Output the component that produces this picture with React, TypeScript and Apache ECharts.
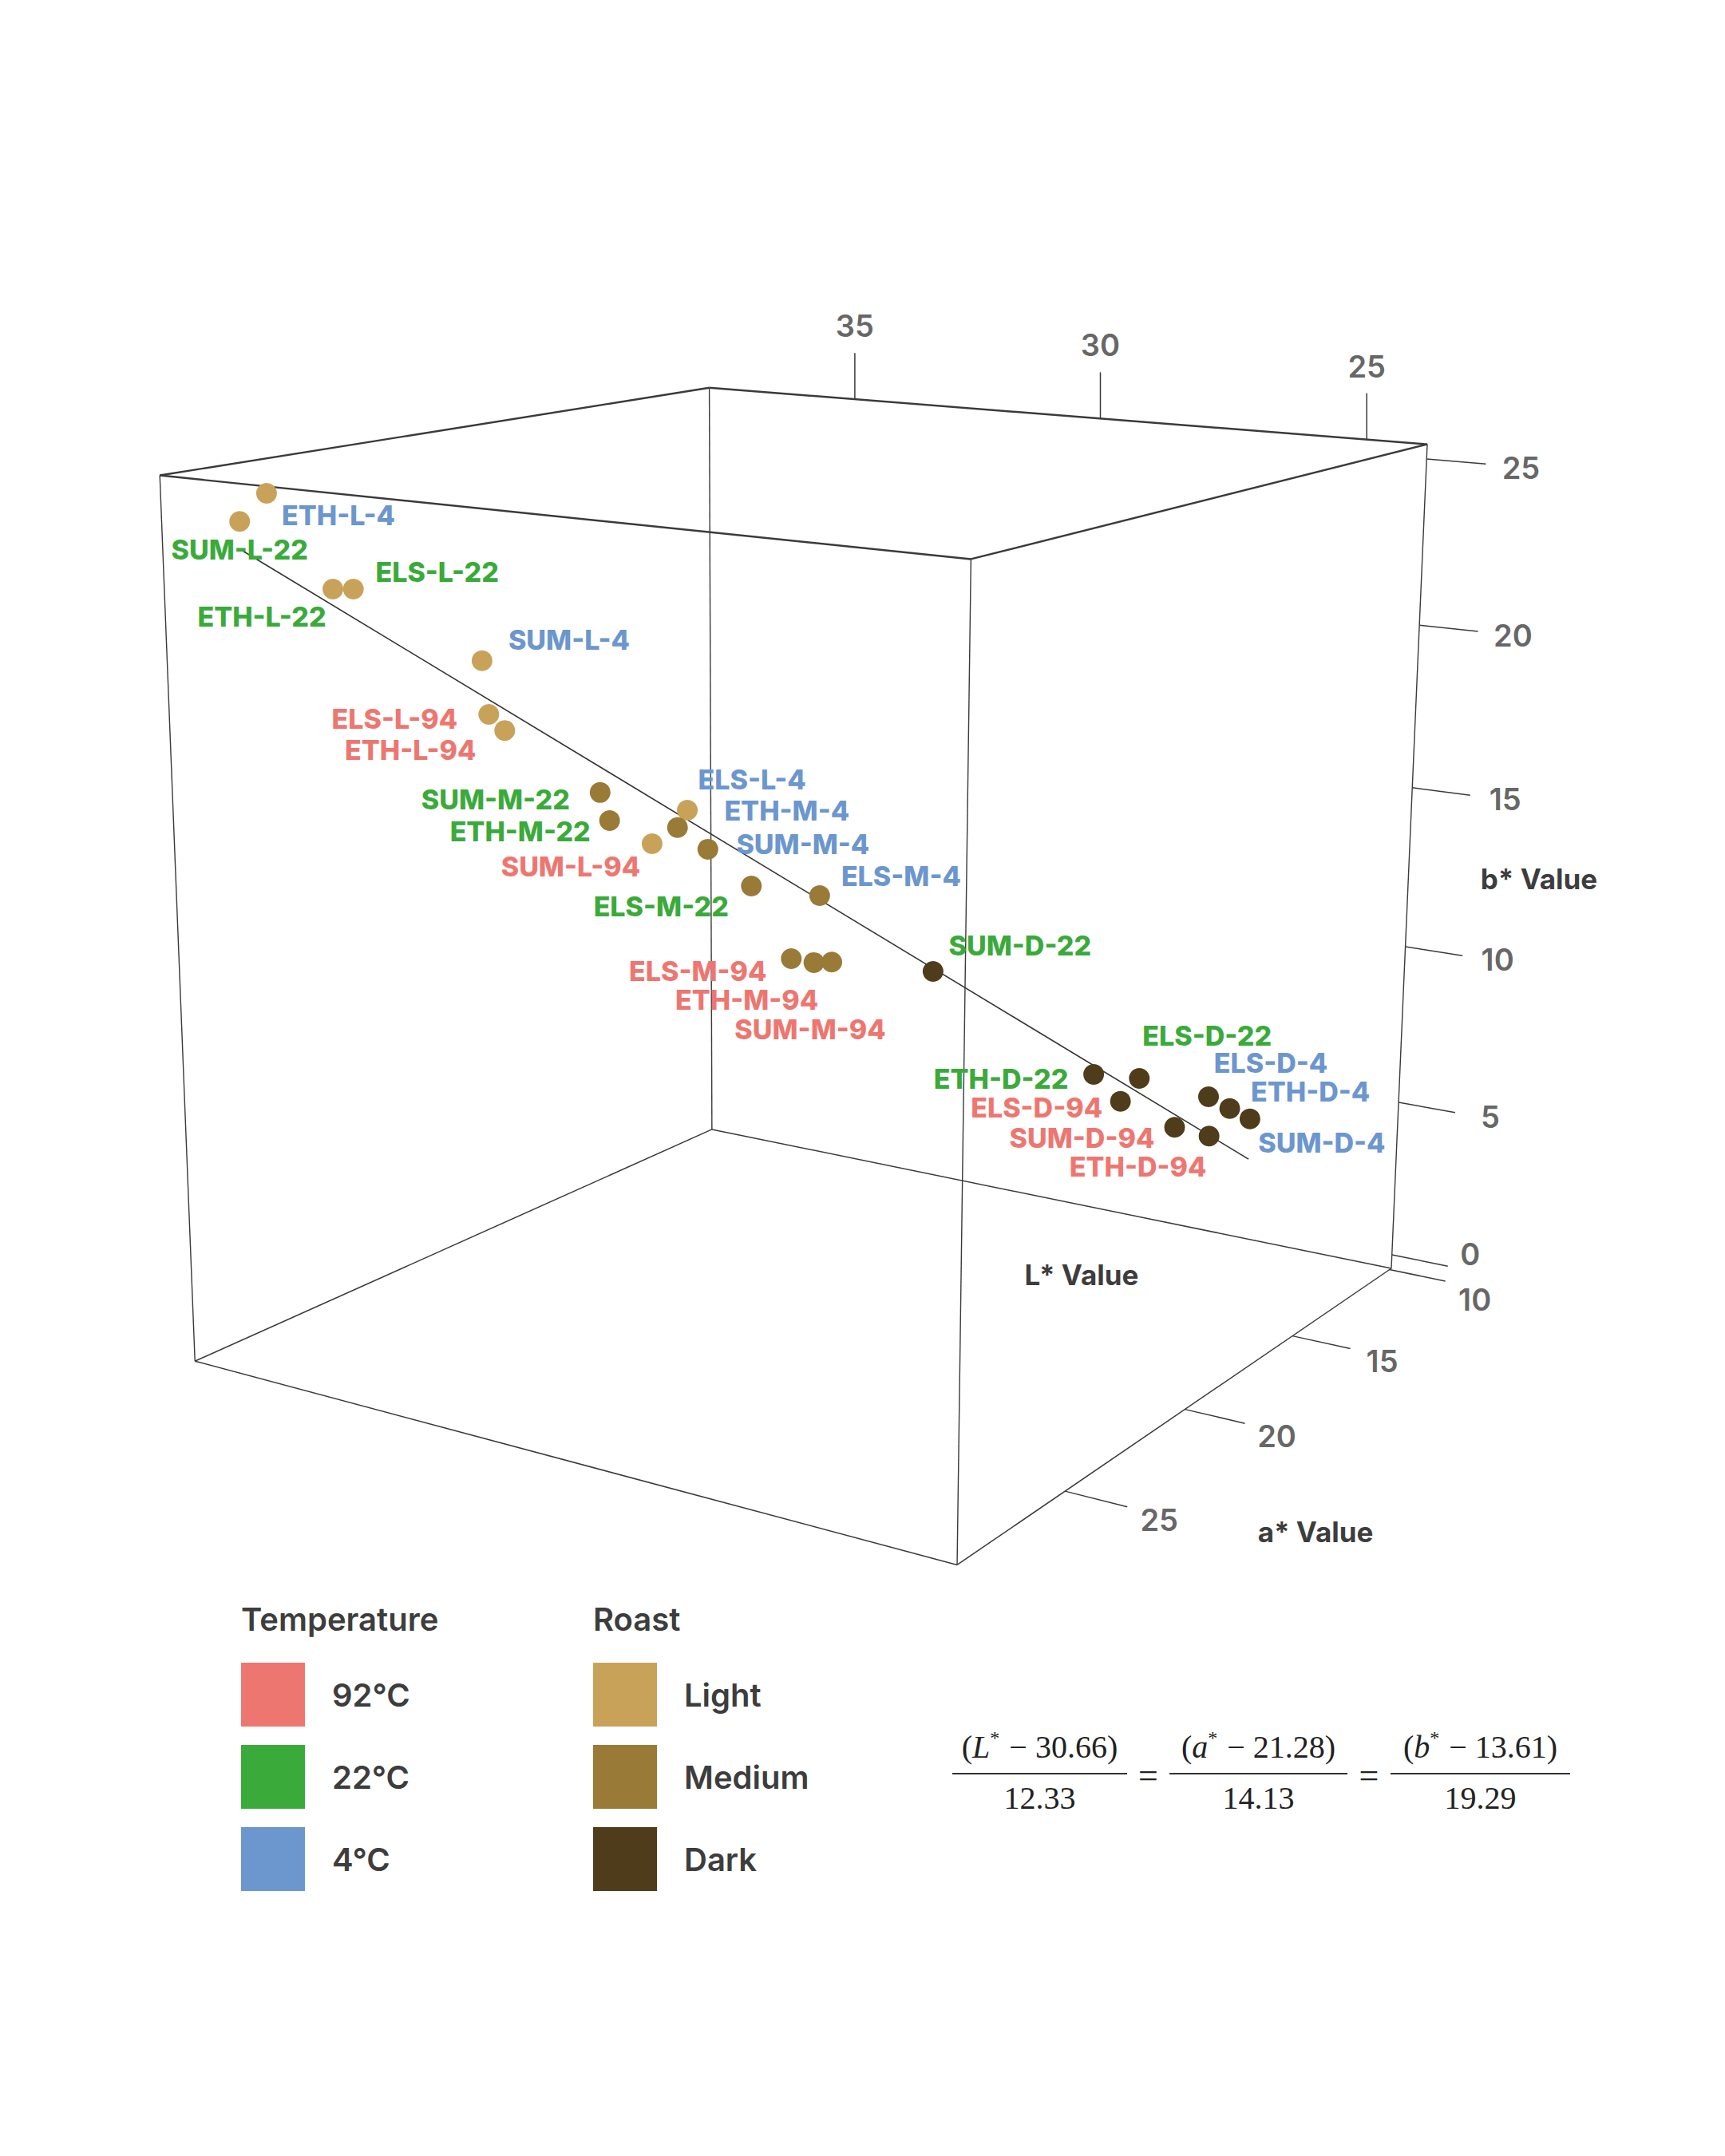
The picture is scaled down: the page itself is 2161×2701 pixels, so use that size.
import React, { useEffect, useRef } from 'react';
import * as echarts from 'echarts';

// ---------------- data ----------------
const SAMPLES = [
  'ETH-L-4', 'SUM-L-22', 'ETH-L-22', 'ELS-L-22', 'SUM-L-4', 'ELS-L-94', 'ETH-L-94',
  'SUM-M-22', 'ETH-M-22', 'ELS-L-4', 'ETH-M-4', 'SUM-L-94', 'SUM-M-4', 'ELS-M-22',
  'ELS-M-4', 'ELS-M-94', 'ETH-M-94', 'SUM-M-94', 'SUM-D-22', 'ETH-D-22', 'ELS-D-22',
  'ELS-D-94', 'ELS-D-4', 'ETH-D-4', 'SUM-D-4', 'SUM-D-94', 'ETH-D-94',
];
const L_VALUES = [
  36.66, 36.97, 35.94, 35.71, 34.26, 34.19, 34.01, 32.91, 32.8, 31.88, 32.0, 32.3, 31.64, 31.12,
  30.3, 30.64, 30.37, 30.15, 28.92, 26.91, 26.34, 26.57, 25.46, 25.19, 24.93, 25.88, 25.44,
];
const A_VALUES = [
  28.15, 28.51, 27.34, 27.07, 25.4, 25.33, 25.12, 23.85, 23.73, 22.68, 22.81, 23.16, 22.4, 21.81,
  20.87, 21.26, 20.94, 20.7, 19.28, 16.99, 16.33, 16.59, 15.33, 15.01, 14.71, 15.8, 15.3,
];
const B_VALUES = [
  25.02, 24.26, 22.34, 22.33, 20.24, 18.71, 18.24, 16.38, 15.56, 15.8, 15.3, 14.85, 14.64, 13.52,
  13.17, 11.32, 11.18, 11.18, 10.79, 7.48, 7.3, 6.61, 6.65, 6.25, 5.9, 5.74, 5.42,
];

const L_TICKS = [25, 30, 35];
const A_TICKS = [10, 15, 20, 25];
const B_TICKS = [0, 5, 10, 15, 20, 25];

// regression line: (L*-c0)/d0 = (a*-c1)/d1 = (b*-c2)/d2
const EQ_CENTER = [30.66, 21.28, 13.61];
const EQ_DIR = [12.33, 14.13, 19.29];

const TEMPERATURES = ['94', '22', '4'];
const TEMP_LABELS = ['92°C', '22°C', '4°C'];
const ROASTS = ['L', 'M', 'D'];
const ROAST_LABELS = ['Light', 'Medium', 'Dark'];

// ---------------- styles / layout ----------------
const W = 2161;
const H = 2701;
const TEMP_COLORS = ['#EE7670', '#3AAA3A', '#6C96CE'];
const ROAST_COLORS = ['#C9A25A', '#997A36', '#4E3C1B'];
const INK = '#3d3d3d';
const FONT = 'Inter, "Noto Sans", sans-serif';

const L_RANGE = [23.92, 38.16];
const A_RANGE = [9.9, 29.06];
const B_RANGE = [-0.45, 25.44];

// perspective camera: image of the origin corner, vanishing points of the three axes, weights
const CAMERA = {
  origin: [1743, 1589],
  vanish: [
    [-6490, -95],
    [4111, -28],
    [956, 19640],
  ],
  weight: [0.1153, -0.1868, -0.0541],
};

// centre offsets of each sample label relative to its point
const LABEL_OFFSETS: Record<string, number[]> = {
  'ETH-L-4': [90, 28], 'SUM-L-22': [0, 35], 'ETH-L-22': [-89, 34], 'ELS-L-22': [105, -21],
  'SUM-L-4': [109, -26], 'ELS-L-94': [-118, 5], 'ETH-L-94': [-118, 24], 'SUM-M-22': [-131, 9],
  'ETH-M-22': [-112, 14], 'ELS-L-4': [81, -38], 'ETH-M-4': [137, -21], 'SUM-L-94': [-102, 29],
  'SUM-M-4': [119, -6], 'ELS-M-22': [-113, 26], 'ELS-M-4': [102, -25], 'ELS-M-94': [-117, 15],
  'ETH-M-94': [-84, 47], 'SUM-M-94': [-27, 84], 'SUM-D-22': [109, -33], 'ETH-D-22': [-116, 6],
  'ELS-D-22': [85, -53], 'ELS-D-94': [-105, 8], 'ELS-D-4': [78, -42], 'ETH-D-4': [101, -21],
  'SUM-D-4': [90, 30], 'SUM-D-94': [-116, 13], 'ETH-D-94': [-89, 38],
};

function norm(v: number, r: number[]) {
  return (v - r[0]) / (r[1] - r[0]);
}

function project(L: number, a: number, b: number): number[] {
  const n = [norm(L, L_RANGE), norm(a, A_RANGE), norm(b, B_RANGE)];
  let x = CAMERA.origin[0];
  let y = CAMERA.origin[1];
  let d = 1;
  for (let i = 0; i < 3; i++) {
    const k = CAMERA.weight[i] * n[i];
    x += k * CAMERA.vanish[i][0];
    y += k * CAMERA.vanish[i][1];
    d += k;
  }
  return [x / d, y / d];
}

function buildOption() {
  // box edges
  const edges: number[][] = [];
  const Ls = L_RANGE, As = A_RANGE, Bs = B_RANGE;
  for (const a of As) for (const b of Bs) {
    const p = project(Ls[0], a, b), q = project(Ls[1], a, b);
    edges.push([p[0], p[1], q[0], q[1], b === Bs[1] ? 2.4 : 1.5]);
  }
  for (const L of Ls) for (const b of Bs) {
    const p = project(L, As[0], b), q = project(L, As[1], b);
    edges.push([p[0], p[1], q[0], q[1], b === Bs[1] ? 2.4 : 1.5]);
  }
  for (const L of Ls) for (const a of As) {
    const p = project(L, a, Bs[0]), q = project(L, a, Bs[1]);
    edges.push([p[0], p[1], q[0], q[1], 1.4]);
  }

  // ticks and tick labels
  const tickLabels: any[] = [];
  const tickOut = Ls[0] - 0.073 * (Ls[1] - Ls[0]);
  L_TICKS.forEach((v) => {
    const p = project(v, As[0], Bs[1]);
    edges.push([p[0], p[1], p[0], p[1] - 58, 1.5]);
    tickLabels.push({ value: [p[0], p[1] - 92], label: { formatter: String(v) } });
  });
  A_TICKS.forEach((v, i) => {
    const p = project(Ls[0], v, Bs[0]);
    const q = project(tickOut, v, Bs[0]);
    edges.push([p[0], p[1], q[0], q[1], 1.5]);
    const off = i === 0 ? [37, 23] : [40, 16];
    tickLabels.push({ value: [q[0] + off[0], q[1] + off[1]], label: { formatter: String(v) } });
  });
  B_TICKS.forEach((v, i) => {
    const p = project(Ls[0], As[0], v);
    const q = project(tickOut, As[0], v);
    edges.push([p[0], p[1], q[0], q[1], 1.5]);
    const off = i === 0 ? [28, -15] : [44, 5];
    tickLabels.push({ value: [q[0] + off[0], q[1] + off[1]], label: { formatter: String(v) } });
  });

  // regression line across the L* range of the data
  const tMin = (Math.min(...L_VALUES) - EQ_CENTER[0]) / EQ_DIR[0];
  const tMax = (Math.max(...L_VALUES) - EQ_CENTER[0]) / EQ_DIR[0];
  const linePts = [tMin, tMax].map((t) =>
    project(EQ_CENTER[0] + t * EQ_DIR[0], EQ_CENTER[1] + t * EQ_DIR[1], EQ_CENTER[2] + t * EQ_DIR[2])
  );

  // points
  const points = SAMPLES.map((name, i) => {
    const parts = name.split('-');
    const roastIdx = ROASTS.indexOf(parts[1]);
    const tempIdx = TEMPERATURES.indexOf(parts[2]);
    const p = project(L_VALUES[i], A_VALUES[i], B_VALUES[i]);
    return {
      name,
      value: [p[0], p[1]],
      itemStyle: { color: ROAST_COLORS[roastIdx], opacity: 1 },
      label: {
        show: true,
        formatter: name,
        position: 'inside',
        offset: LABEL_OFFSETS[name] || [0, 0],
        color: TEMP_COLORS[tempIdx],
        opacity: 1,
        fontFamily: FONT,
        fontWeight: 800,
        fontSize: 34,
        lineHeight: 26,
        align: 'center',
        verticalAlign: 'middle',
      },
    };
  });

  const legendGraphics: any[] = [];
  const rowsY = [2083, 2186, 2289];
  const legendCols = [
    { title: 'Temperature', x: 302, labels: TEMP_LABELS, colors: TEMP_COLORS },
    { title: 'Roast', x: 743, labels: ROAST_LABELS, colors: ROAST_COLORS },
  ];
  legendCols.forEach((col) => {
    legendGraphics.push({
      type: 'text', left: col.x, top: 2008,
      style: { text: col.title, fill: INK, font: `600 40px ${FONT}` },
    });
    col.labels.forEach((lab, i) => {
      legendGraphics.push({
        type: 'rect', shape: { x: col.x, y: rowsY[i], width: 80, height: 80 },
        style: { fill: col.colors[i] },
      });
      legendGraphics.push({
        type: 'text', x: col.x + 114, y: rowsY[i] + 40,
        style: { text: lab, fill: INK, font: `600 40px ${FONT}`, verticalAlign: 'middle', align: 'left' },
      });
    });
  });

  // equation
  const SERIF = '"Liberation Serif", "DejaVu Serif", serif';
  const rich = {
    n: { fontFamily: SERIF, fontSize: 40, fill: '#222', lineHeight: 46 },
    i: { fontFamily: SERIF, fontSize: 40, fontStyle: 'italic', fill: '#222', lineHeight: 46 },
    s: { fontFamily: SERIF, fontSize: 24, fill: '#222', lineHeight: 46, verticalAlign: 'top', padding: [0, 2, 18, 0] },
  };
  const fracs = [
    { v: 'L', c: '30.66', d: '12.33', x0: 1193, x1: 1412 },
    { v: 'a', c: '21.28', d: '14.13', x0: 1465, x1: 1688 },
    { v: 'b', c: '13.61', d: '19.29', x0: 1742, x1: 1967 },
  ];
  const eqGraphics: any[] = [];
  fracs.forEach((f, k) => {
    const cx = (f.x0 + f.x1) / 2;
    eqGraphics.push({
      type: 'line', shape: { x1: f.x0, y1: 2222, x2: f.x1, y2: 2222 },
      style: { stroke: '#333', lineWidth: 2.2 },
    });
    eqGraphics.push({
      type: 'text', x: cx, y: 2188,
      style: {
        text: `{n|(}{i|${f.v}}{s|*}{n| − ${f.c})}`, rich, align: 'center', verticalAlign: 'middle',
      },
    });
    eqGraphics.push({
      type: 'text', x: cx, y: 2252,
      style: { text: f.d, fill: '#222', font: `40px ${SERIF}`, align: 'center', verticalAlign: 'middle' },
    });
    if (k < 2) {
      eqGraphics.push({
        type: 'text', x: (f.x1 + fracs[k + 1].x0) / 2, y: 2224,
        style: { text: '=', fill: '#222', font: `44px ${SERIF}`, align: 'center', verticalAlign: 'middle' },
      });
    }
  });

  const axisTitles = [
    { text: 'L* Value', x: 1355, y: 1597 },
    { text: 'a* Value', x: 1648, y: 1919 },
    { text: 'b* Value', x: 1928, y: 1101 },
  ].map((t) => ({
    type: 'text', x: t.x, y: t.y,
    style: { text: t.text, fill: INK, font: `bold 35px ${FONT}`, align: 'center', verticalAlign: 'middle' },
  }));

  return {
    animation: false,
    backgroundColor: '#ffffff',
    grid: { left: 0, right: 0, top: 0, bottom: 0, containLabel: false },
    xAxis: { type: 'value', min: 0, max: W, show: false },
    yAxis: { type: 'value', min: 0, max: H, inverse: true, show: false },
    series: [
      {
        type: 'custom',
        name: 'frame',
        clip: false,
        z: 1,
        silent: true,
        data: edges,
        renderItem: (params: any, api: any) => {
          const p1 = api.coord([api.value(0), api.value(1)]);
          const p2 = api.coord([api.value(2), api.value(3)]);
          return {
            type: 'line',
            shape: { x1: p1[0], y1: p1[1], x2: p2[0], y2: p2[1] },
            style: { stroke: '#3a3a3a', lineWidth: api.value(4) },
          };
        },
      },
      {
        type: 'line',
        name: 'fit',
        z: 2,
        silent: true,
        symbol: 'none',
        data: linePts,
        lineStyle: { color: '#333333', width: 1.6 },
      },
      {
        type: 'scatter',
        name: 'ticks',
        z: 2,
        silent: true,
        symbolSize: 0,
        data: tickLabels,
        label: {
          show: true,
          position: 'inside',
          color: INK,
          fontFamily: FONT,
          fontWeight: 600,
          fontSize: 38,
          lineHeight: 30,
          align: 'center',
          verticalAlign: 'middle',
        },
      },
      {
        type: 'scatter',
        name: 'samples',
        z: 3,
        symbol: 'circle',
        symbolSize: 26,
        itemStyle: { opacity: 1 },
        data: points,
      },
    ],
    graphic: [...axisTitles, ...legendGraphics, ...eqGraphics],
  };
}

export default function App() {
  const ref = useRef<HTMLDivElement>(null);
  useEffect(() => {
    document.body.style.margin = '0';
    document.documentElement.style.overflow = 'hidden';
    document.body.style.overflow = 'hidden';
    if (!ref.current) return;
    const chart = echarts.init(ref.current, undefined, { renderer: 'svg', width: W, height: H });
    chart.setOption(buildOption() as any);
    return () => chart.dispose();
  }, []);
  return <div ref={ref} style={{ width: W, height: H, background: '#fff' }} />;
}
